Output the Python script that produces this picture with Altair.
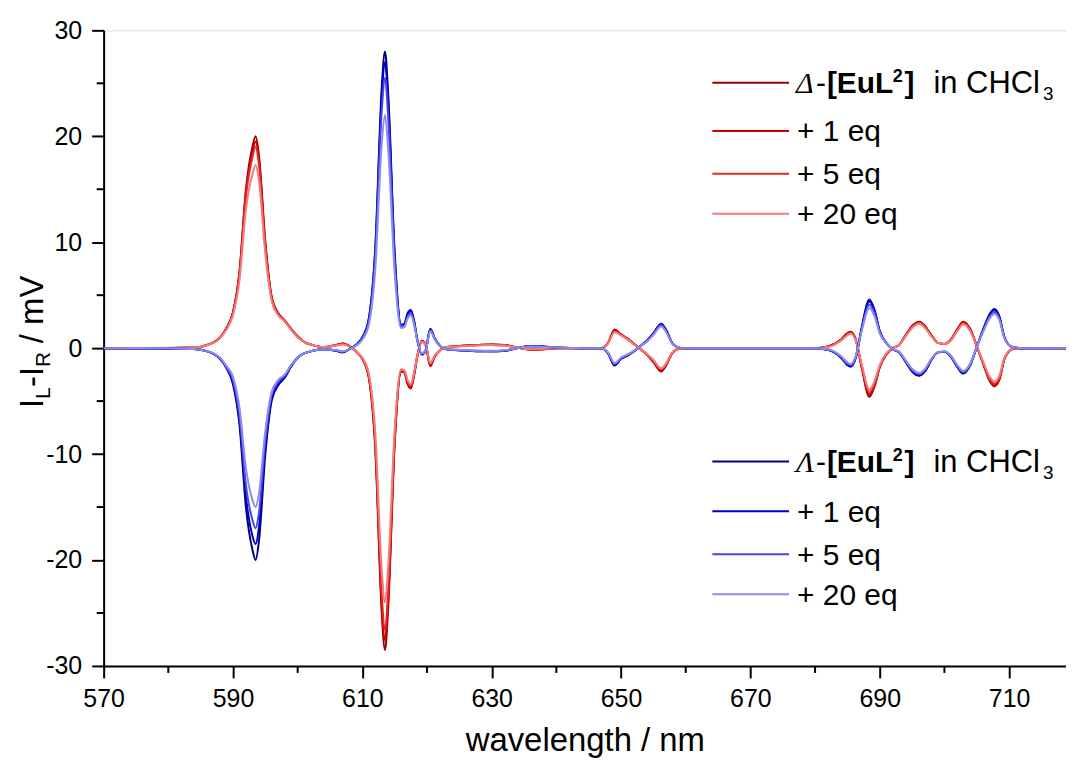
import altair as alt
import pandas as pd

# ---------------- data ----------------
wavelength = [
    570, 575, 580, 584, 586, 587, 588, 589,
    590, 591, 592, 593, 593.5, 594, 595, 596, 597, 598, 599, 600, 601, 602,
    604, 606, 607, 608, 609, 610, 611, 612, 613, 613.5, 614, 615, 616, 616.5, 617, 617.5, 618, 618.5, 619.2, 619.8, 620.5, 621.2, 622, 623,
    625, 628, 630, 632, 634, 636, 638, 640, 644, 647,
    648, 649, 650, 651, 652, 653, 654, 655, 656.2, 657, 658, 659, 660,
    665, 670, 675, 680, 682, 684, 685, 685.5, 686.3, 687.2, 688.4, 689.2, 690, 691, 692,
    693, 694, 695, 696.1, 697, 698, 699, 700, 701, 702, 702.9, 704, 705, 706, 707, 707.7, 708.5, 709.3, 710.5, 712, 716, 720,
]

delta_ref = [
    0, 0, 0.02, 0.05, 0.3, 0.55, 1.0, 1.9,
    3.4, 7.2, 15.0, 19.0, 20.0, 18.3, 10.0, 4.8, 3.3, 2.6, 1.8, 1.1, 0.6, 0.35,
    0.1, 0.3, 0.45, 0.2, -0.3, -1.0, -2.8, -9.5, -25.0, -28.5, -24.5, -9.0, -2.2, -2.3, -3.4, -3.8, -2.6, -0.8, 0.7, 0.3, -1.7, -0.8, -0.2, 0.1,
    0.2, 0.3, 0.35, 0.3, 0.05, -0.15, -0.1, 0.0, 0.0, 0.0,
    0.5, 1.75, 1.3, 0.9, 0.4, -0.1, -0.6, -1.3, -2.2, -1.6, -0.4, -0.05, 0.0,
    0.0, 0.0, 0.0, 0.0, 0.15, 0.8, 1.4, 1.55, 0.8, -1.8, -4.6, -3.6, -1.8, -0.6, 0.0,
    0.3, 1.2, 2.1, 2.5, 2.1, 1.2, 0.5, 0.4, 0.8, 1.8, 2.5, 1.8, 0.2, -1.5, -3.1, -3.6, -3.0, -1.0, -0.1, 0.0, 0.0, 0.0,
]
delta_1eq = [
    0, 0, 0.02, 0.05, 0.3, 0.55, 1.0, 1.9,
    3.35, 7.1, 14.7, 18.5, 19.5, 17.9, 9.8, 4.7, 3.3, 2.6, 1.8, 1.1, 0.6, 0.35,
    0.1, 0.3, 0.45, 0.2, -0.3, -1.0, -2.7, -9.2, -24.2, -27.6, -23.7, -8.8, -2.2, -2.3, -3.3, -3.7, -2.5, -0.8, 0.7, 0.3, -1.6, -0.8, -0.2, 0.1,
    0.2, 0.3, 0.35, 0.3, 0.05, -0.15, -0.1, 0.0, 0.0, 0.0,
    0.5, 1.7, 1.3, 0.9, 0.4, -0.1, -0.6, -1.3, -2.1, -1.5, -0.4, -0.05, 0.0,
    0.0, 0.0, 0.0, 0.0, 0.15, 0.8, 1.4, 1.5, 0.8, -1.7, -4.4, -3.5, -1.8, -0.6, 0.0,
    0.3, 1.2, 2.05, 2.45, 2.05, 1.2, 0.5, 0.4, 0.8, 1.75, 2.45, 1.75, 0.2, -1.45, -3.0, -3.5, -2.9, -1.0, -0.1, 0.0, 0.0, 0.0,
]
delta_5eq = [
    0, 0.02, 0.02, 0.05, 0.3, 0.55, 1.0, 1.85,
    3.3, 6.9, 14.3, 18.0, 19.0, 17.4, 9.6, 4.6, 3.2, 2.6, 1.8, 1.1, 0.6, 0.35,
    0.1, 0.3, 0.4, 0.2, -0.3, -1.0, -2.6, -8.9, -23.3, -26.6, -22.9, -8.5, -2.1, -2.2, -3.2, -3.6, -2.4, -0.7, 0.6, 0.3, -1.5, -0.7, -0.2, 0.1,
    0.2, 0.3, 0.3, 0.25, 0.05, -0.1, -0.1, 0.0, 0.0, 0.0,
    0.5, 1.6, 1.25, 0.85, 0.4, -0.1, -0.6, -1.2, -2.0, -1.5, -0.4, -0.05, 0.0,
    0.0, 0.0, 0.0, 0.0, 0.15, 0.75, 1.3, 1.45, 0.75, -1.6, -4.2, -3.3, -1.7, -0.6, 0.0,
    0.3, 1.15, 2.0, 2.4, 2.0, 1.15, 0.5, 0.4, 0.75, 1.7, 2.35, 1.7, 0.2, -1.4, -2.9, -3.35, -2.8, -0.95, -0.1, 0.0, 0.0, 0.0,
]
delta_20eq = [
    0, 0.02, 0.03, 0.05, 0.28, 0.5, 0.95, 1.75,
    3.1, 6.4, 13.1, 16.4, 17.3, 15.9, 8.9, 4.4, 3.1, 2.5, 1.7, 1.0, 0.6, 0.35,
    0.1, 0.25, 0.35, 0.15, -0.3, -0.9, -2.4, -8.0, -21.0, -24.0, -20.6, -7.7, -2.0, -2.1, -3.0, -3.4, -2.3, -0.7, 0.6, 0.3, -1.4, -0.7, -0.2, 0.1,
    0.15, 0.25, 0.3, 0.25, 0.05, -0.1, -0.05, 0.0, 0.0, 0.0,
    0.45, 1.5, 1.2, 0.8, 0.35, -0.1, -0.55, -1.1, -1.9, -1.4, -0.35, -0.05, 0.0,
    0.0, 0.0, 0.0, 0.0, 0.1, 0.7, 1.2, 1.35, 0.7, -1.5, -3.9, -3.1, -1.6, -0.5, 0.0,
    0.3, 1.1, 1.9, 2.3, 1.9, 1.1, 0.5, 0.4, 0.7, 1.6, 2.25, 1.6, 0.2, -1.3, -2.7, -3.15, -2.6, -0.9, -0.1, 0.0, 0.0, 0.0,
]
lambda_ref = [
    0, 0, -0.05, -0.08, -0.3, -0.55, -1.0, -1.9,
    -3.4, -7.2, -15.0, -19.0, -20.0, -18.3, -10.0, -4.9, -3.5, -2.8, -1.7, -0.9, -0.5, -0.3,
    -0.1, -0.25, -0.4, -0.1, 0.3, 1.0, 2.8, 9.5, 24.6, 28.0, 24.0, 9.0, 2.2, 2.3, 3.3, 3.6, 2.6, 0.8, -0.6, -0.2, 1.8, 0.9, 0.2, -0.1,
    -0.2, -0.3, -0.3, -0.25, 0.0, 0.2, 0.15, 0.05, 0.0, 0.0,
    -0.5, -1.65, -1.0, -0.7, -0.3, 0.2, 0.7, 1.4, 2.3, 1.7, 0.4, 0.05, 0.0,
    0.0, 0.0, 0.0, 0.0, -0.15, -0.9, -1.6, -1.75, -0.9, 1.9, 4.6, 3.6, 1.6, 0.5, -0.1,
    -0.4, -1.3, -2.2, -2.6, -2.2, -1.1, -0.4, -0.35, -0.8, -1.8, -2.4, -1.6, 0.1, 1.8, 3.2, 3.7, 3.0, 1.0, 0.1, 0.0, 0.0, 0.0,
]
lambda_1eq = [
    0, 0, -0.05, -0.08, -0.3, -0.55, -1.0, -1.85,
    -3.2, -6.8, -14.0, -17.7, -18.5, -17.0, -9.4, -4.7, -3.4, -2.7, -1.7, -0.9, -0.5, -0.3,
    -0.1, -0.25, -0.4, -0.1, 0.3, 1.0, 2.7, 9.1, 23.7, 27.0, 23.1, 8.7, 2.2, 2.2, 3.2, 3.5, 2.5, 0.8, -0.6, -0.2, 1.8, 0.9, 0.2, -0.1,
    -0.2, -0.3, -0.3, -0.25, 0.0, 0.2, 0.15, 0.05, 0.0, 0.0,
    -0.5, -1.6, -1.0, -0.7, -0.3, 0.2, 0.7, 1.4, 2.25, 1.6, 0.4, 0.05, 0.0,
    0.0, 0.0, 0.0, 0.0, -0.15, -0.85, -1.55, -1.7, -0.85, 1.8, 4.4, 3.5, 1.6, 0.5, -0.1,
    -0.4, -1.25, -2.15, -2.55, -2.15, -1.1, -0.4, -0.35, -0.8, -1.75, -2.35, -1.55, 0.1, 1.75, 3.1, 3.6, 2.9, 1.0, 0.1, 0.0, 0.0, 0.0,
]
lambda_5eq = [
    0, 0, -0.03, -0.08, -0.3, -0.55, -0.95, -1.8,
    -3.0, -6.3, -12.9, -16.2, -17.0, -15.6, -8.7, -4.4, -3.2, -2.6, -1.6, -0.9, -0.5, -0.3,
    -0.1, -0.2, -0.35, -0.1, 0.3, 0.9, 2.5, 8.6, 22.4, 25.5, 21.8, 8.2, 2.1, 2.1, 3.0, 3.3, 2.4, 0.7, -0.5, -0.2, 1.7, 0.9, 0.2, -0.1,
    -0.2, -0.25, -0.3, -0.2, 0.0, 0.15, 0.1, 0.05, 0.0, 0.0,
    -0.45, -1.5, -0.95, -0.65, -0.3, 0.2, 0.65, 1.3, 2.15, 1.55, 0.4, 0.05, 0.0,
    0.0, 0.0, 0.0, 0.0, -0.15, -0.8, -1.45, -1.6, -0.8, 1.7, 4.1, 3.3, 1.5, 0.5, -0.1,
    -0.35, -1.2, -2.05, -2.45, -2.05, -1.05, -0.4, -0.35, -0.75, -1.7, -2.25, -1.5, 0.1, 1.65, 2.95, 3.4, 2.8, 0.95, 0.1, 0.0, 0.0, 0.0,
]
lambda_20eq = [
    0, 0.02, -0.02, -0.08, -0.28, -0.5, -0.9, -1.7,
    -2.7, -5.6, -11.3, -14.3, -15.0, -13.8, -7.8, -4.1, -3.0, -2.5, -1.6, -0.9, -0.5, -0.3,
    -0.1, -0.2, -0.3, -0.1, 0.2, 0.8, 2.2, 7.4, 19.3, 22.0, 18.8, 7.1, 1.9, 2.0, 2.8, 3.1, 2.2, 0.7, -0.5, -0.2, 1.6, 0.8, 0.2, -0.1,
    -0.15, -0.25, -0.25, -0.2, 0.0, 0.15, 0.1, 0.05, 0.0, 0.0,
    -0.4, -1.4, -0.9, -0.6, -0.25, 0.2, 0.6, 1.25, 2.05, 1.5, 0.35, 0.05, 0.0,
    0.0, 0.0, 0.0, 0.0, -0.1, -0.75, -1.35, -1.5, -0.75, 1.6, 3.8, 3.0, 1.4, 0.5, -0.1,
    -0.35, -1.15, -1.95, -2.35, -1.95, -1.0, -0.4, -0.3, -0.7, -1.6, -2.15, -1.45, 0.1, 1.55, 2.8, 3.25, 2.65, 0.9, 0.1, 0.0, 0.0, 0.0,
]

series_keys = ["Δ ref", "Δ +1 eq", "Δ +5 eq", "Δ +20 eq",
               "Λ ref", "Λ +1 eq", "Λ +5 eq", "Λ +20 eq"]
series_values = [delta_ref, delta_1eq, delta_5eq, delta_20eq,
                 lambda_ref, lambda_1eq, lambda_5eq, lambda_20eq]
series_colors = ["#990000", "#cc0000", "#e42828", "#f27c7c",
                 "#000080", "#0000c8", "#4646e0", "#8c8cf0"]

legend_eq_labels = ["+ 1 eq", "+ 5 eq", "+ 20 eq"]

x_major = [570, 590, 610, 630, 650, 670, 690, 710]
x_minor = [580, 600, 620, 640, 660, 680, 700]
y_major = [-30, -20, -10, 0, 10, 20, 30]
y_minor = [-25, -15, -5, 5, 15, 25]

# ---------------- build table ----------------
rows = []
for key, vals in zip(series_keys, series_values):
    if len(vals) != len(wavelength):
        raise ValueError(f"{key}: {len(vals)} values vs {len(wavelength)} wavelengths")
    for w, v in zip(wavelength, vals):
        rows.append({"wl": w, "val": v, "series": key})
df = pd.DataFrame(rows)

W, H = 966, 638
FONT = "Liberation Sans"

xscale = alt.Scale(domain=[570, 718.8], nice=False, zero=False)
yscale = alt.Scale(domain=[-30, 30], nice=False, zero=False)

x_axis = alt.Axis(values=x_major, tickSize=12, tickWidth=2, tickColor="black",
                  domainWidth=2, domainColor="black", labelFontSize=25,
                  labelFont=FONT, labelColor="black", labelPadding=9,
                  labelFlush=False, grid=False, title="wavelength / nm",
                  titleFont=FONT, titleFontSize=33, titleFontWeight="normal",
                  titleColor="black", titleY=85, titleBaseline="alphabetic")
y_axis = alt.Axis(values=y_major, tickSize=12, tickWidth=2, tickColor="black",
                  domainWidth=2, domainColor="black", labelFontSize=25,
                  labelFont=FONT, labelColor="black", labelPadding=10,
                  labelFlush=False, grid=False, title=None,
                  labelExpr="'' + datum.value")

X = alt.X("wl:Q", scale=xscale, axis=x_axis)
Y = alt.Y("val:Q", scale=yscale, axis=y_axis)

layers = []
for key, col in zip(series_keys, series_colors):
    layers.append(
        alt.Chart(df).transform_filter(alt.datum.series == key)
        .mark_line(strokeWidth=2, interpolate="monotone", clip=True)
        .encode(x=X, y=Y, color=alt.value(col), order=alt.Order("wl:Q"))
    )

# minor ticks (same fields / scales / axes as the curves so the axes merge cleanly)
layers.append(
    alt.Chart(pd.DataFrame({"wl": x_minor})).mark_rule(color="black", strokeWidth=2)
    .encode(x=X, y=alt.value(H), y2=alt.value(H + 7))
)
layers.append(
    alt.Chart(pd.DataFrame({"val": y_minor})).mark_rule(color="black", strokeWidth=2)
    .encode(y=Y, x=alt.value(-7), x2=alt.value(0))
)

ONE = alt.Data(values=[{"a": 1}])


def txt(s, x, y, size=30, weight="normal", style="normal", font=FONT, angle=0):
    return (alt.Chart(ONE)
            .mark_text(fontSize=size, fontWeight=weight, fontStyle=style, font=font,
                       align="left", baseline="alphabetic", angle=angle, color="black")
            .encode(x=alt.value(x), y=alt.value(y), text=alt.value(s)))


def leg_line(y, col):
    return (alt.Chart(ONE).mark_rule(color=col, strokeWidth=2)
            .encode(x=alt.value(611), x2=alt.value(688), y=alt.value(y)))


# legends (positions relative to the plot area)
red_lines_y = [52.7, 101, 144, 184]
blue_lines_y = [432.7, 482.7, 526, 566]
for ly_list, cols, sym in ((red_lines_y, series_colors[:4], "Δ"),
                           (blue_lines_y, series_colors[4:], "Λ")):
    for y, c in zip(ly_list, cols):
        layers.append(leg_line(y, c))
    b = ly_list[0] + 10.5
    layers.append(txt(sym, 695, b, size=30, style="italic", font="Liberation Serif"))
    layers.append(txt("-", 715, b, size=30))
    layers.append(txt("[EuL", 726, b, size=30, weight="bold"))
    layers.append(txt("2", 792, b - 11, size=18, weight="bold"))
    layers.append(txt("]", 804, b, size=30, weight="bold"))
    layers.append(txt("in CHCl", 833, b, size=31))
    layers.append(txt("3", 943, b + 7, size=19))
    for y, lab in zip(ly_list[1:], legend_eq_labels):
        layers.append(txt(lab, 696, y + 10.5, size=30))

# y axis title: I_L-I_R / mV (rotated)
layers.append(txt("I", -61, 379, size=33, angle=270))
layers.append(txt("L", -54, 370, size=21, angle=270))
layers.append(txt("-I", -61, 358, size=33, angle=270))
layers.append(txt("R", -54, 338, size=21, angle=270))
layers.append(txt("/ mV", -61, 314, size=33, angle=270))

chart = (
    alt.layer(*layers)
    .properties(width=W, height=H,
                padding={"left": 96, "top": 21, "right": 0, "bottom": 95},
                autosize=alt.AutoSizeParams(type="none"))
    .configure_view(stroke=None)
    .configure(background="white")
)

chart.save("out.html", embed_options={"renderer": "svg", "actions": False})
